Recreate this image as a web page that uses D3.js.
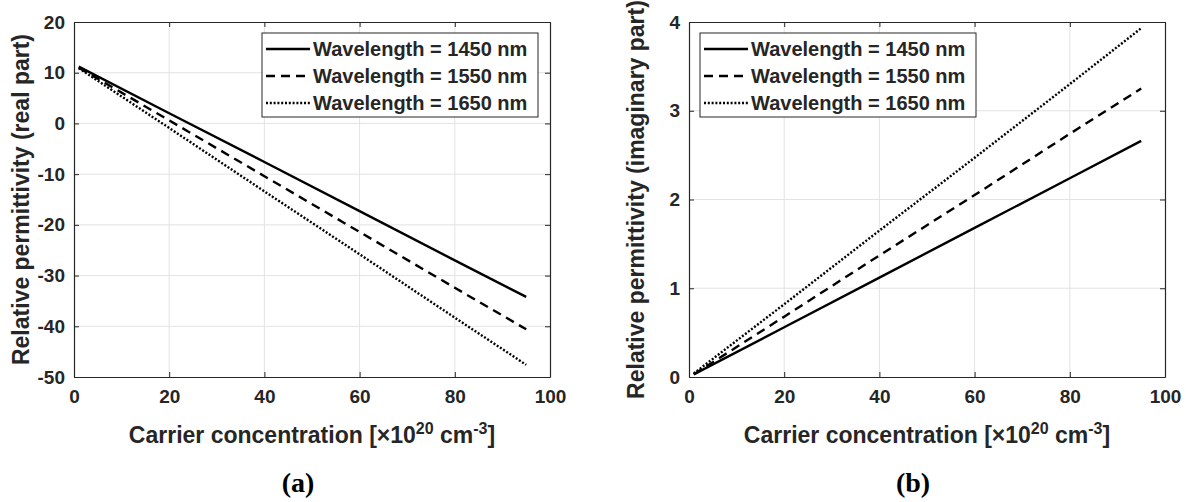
<!DOCTYPE html>
<html>
<head>
<meta charset="utf-8">
<script src="https://cdn.jsdelivr.net/npm/d3@7"></script>
<style>
  html, body { margin: 0; padding: 0; background: #fff; }
  svg { display: block; }
  text { font-family: "Liberation Sans", Arial, Helvetica, sans-serif; font-weight: bold; fill: #262626; }
  .panel-tag { font-family: "Liberation Serif", "Times New Roman", serif; fill: #000; }
</style>
</head>
<body>
<svg id="fig" width="1186" height="502"></svg>
<script>
// Carrier concentration samples (×10^20 cm^-3)
const carrier = [1, 20, 40, 60, 80, 95];

// Real part of the relative permittivity
const real1450 = [11.2, 2.0, -7.6, -17.3, -27.0, -34.2];
const real1550 = [11.0, 0.6, -10.4, -21.4, -32.4, -40.6];
const real1650 = [10.9, -0.9, -13.4, -25.8, -38.3, -47.6];

// Imaginary part of the relative permittivity
const imag1450 = [0.03, 0.56, 1.12, 1.68, 2.24, 2.66];
const imag1550 = [0.03, 0.68, 1.37, 2.05, 2.74, 3.25];
const imag1650 = [0.04, 0.82, 1.65, 2.47, 3.30, 3.93];

const xTicks = [0, 20, 40, 60, 80, 100];
const realTicks = [-50, -40, -30, -20, -10, 0, 10, 20];
const imagTicks = [0, 1, 2, 3, 4];

const legendLabels = ["Wavelength = 1450 nm", "Wavelength = 1550 nm", "Wavelength = 1650 nm"];
const dashStyles = [null, "9,6", "2,1.8"];

const svg = d3.select("#fig");
const fmt = d => String(d);   // plain hyphen for negatives, integers as-is

function panel(opts) {
  const { left, right, top, bottom, yDomain, yTicks, series, yTitle, tag, tagX, legendX } = opts;
  const g = svg.append("g");
  const x = d3.scaleLinear().domain([0, 100]).range([left, right]);
  const y = d3.scaleLinear().domain(yDomain).range([bottom, top]);

  // grid
  g.append("g").selectAll("line").data(xTicks.slice(1, -1)).join("line")
    .attr("x1", d => x(d)).attr("x2", d => x(d)).attr("y1", top).attr("y2", bottom)
    .attr("stroke", "#e3e3e3").attr("stroke-width", 1);
  g.append("g").selectAll("line").data(yTicks.slice(1, -1)).join("line")
    .attr("y1", d => y(d)).attr("y2", d => y(d)).attr("x1", left).attr("x2", right)
    .attr("stroke", "#e3e3e3").attr("stroke-width", 1);

  // data lines
  const line = d3.line().x((d, i) => x(carrier[i])).y(d => y(d));
  series.forEach((s, i) => {
    g.append("path").datum(s).attr("d", line)
      .attr("fill", "none").attr("stroke", "#000").attr("stroke-width", 2.4)
      .attr("stroke-dasharray", dashStyles[i]);
  });

  // axes (ticks pointing inward, box on)
  const axB = g.append("g").attr("transform", `translate(0,${bottom})`)
    .call(d3.axisBottom(x).tickValues(xTicks).tickFormat(fmt).tickSizeInner(-5).tickSizeOuter(0).tickPadding(13));
  const axT = g.append("g").attr("transform", `translate(0,${top})`)
    .call(d3.axisTop(x).tickValues(xTicks).tickSizeInner(-5).tickSizeOuter(0).tickFormat(""));
  const axL = g.append("g").attr("transform", `translate(${left},0)`)
    .call(d3.axisLeft(y).tickValues(yTicks).tickFormat(fmt).tickSizeInner(-5).tickSizeOuter(0).tickPadding(9));
  const axR = g.append("g").attr("transform", `translate(${right},0)`)
    .call(d3.axisRight(y).tickValues(yTicks).tickSizeInner(-5).tickSizeOuter(0).tickFormat(""));
  [axB, axT, axL, axR].forEach(a => {
    a.attr("font-family", null);
    a.select(".domain").attr("stroke", "#262626").attr("stroke-width", 1.2);
    a.selectAll(".tick line").attr("stroke", "#262626").attr("stroke-width", 1);
    a.selectAll(".tick text").attr("font-size", 19).attr("fill", "#262626");
  });

  // axis titles
  const xt = g.append("text").attr("x", (left + right) / 2).attr("y", bottom + 66)
    .attr("text-anchor", "middle").attr("font-size", 23);
  xt.append("tspan").text("Carrier concentration [×10");
  xt.append("tspan").attr("font-size", 16).attr("dy", -9).text("20");
  xt.append("tspan").attr("dy", 9).text(" cm");
  xt.append("tspan").attr("font-size", 16).attr("dy", -9).text("-3");
  xt.append("tspan").attr("dy", 9).text("]");

  g.append("text").attr("transform", `translate(${left - 45},${(top + bottom) / 2}) rotate(-90)`)
    .attr("text-anchor", "middle").attr("font-size", 23).text(yTitle);

  // legend
  const lx = legendX, ly = top + 11, lw = 276, lh = 84;
  const lg = g.append("g");
  lg.append("rect").attr("x", lx).attr("y", ly).attr("width", lw).attr("height", lh)
    .attr("fill", "#fff").attr("stroke", "#262626").attr("stroke-width", 1);
  legendLabels.forEach((lab, i) => {
    const cy = ly + 16 + i * 27;
    lg.append("line").attr("x1", lx + 4).attr("x2", lx + 48).attr("y1", cy).attr("y2", cy)
      .attr("stroke", "#000").attr("stroke-width", 2.4).attr("stroke-dasharray", dashStyles[i]);
    lg.append("text").attr("x", lx + 51).attr("y", cy + 7).attr("font-size", 20).text(lab);
  });

  svg.append("text").attr("class", "panel-tag").attr("x", tagX).attr("y", 492)
    .attr("text-anchor", "middle").attr("font-size", 28).text(tag);
}

panel({
  left: 74, right: 550, top: 22, bottom: 377,
  yDomain: [-50, 20], yTicks: realTicks,
  series: [real1450, real1550, real1650],
  yTitle: "Relative permittivity (real part)", tag: "(a)", tagX: 298, legendX: 262
});

panel({
  left: 689, right: 1165, top: 22, bottom: 377,
  yDomain: [0, 4], yTicks: imagTicks,
  series: [imag1450, imag1550, imag1650],
  yTitle: "Relative permittivity (imaginary part)", tag: "(b)", tagX: 913, legendX: 700
});
</script>
</body>
</html>
